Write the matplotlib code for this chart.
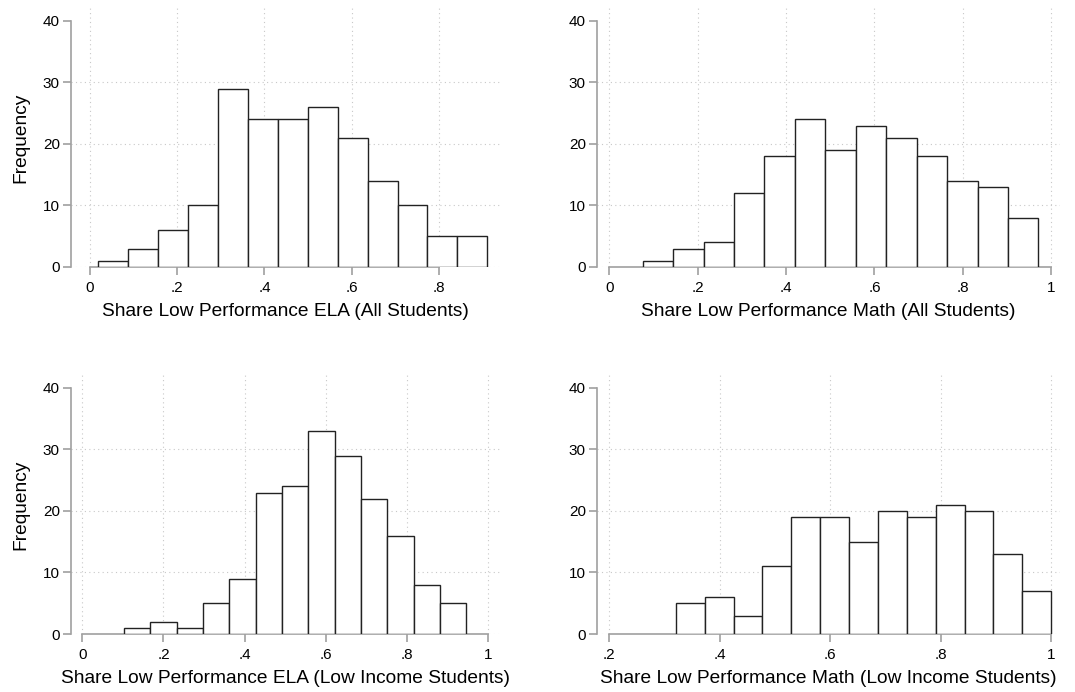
import matplotlib.pyplot as plt
import numpy as np

plt.rcParams['font.family'] = ['Liberation Sans', 'DejaVu Sans']

# bin starts, bin widths and counts
ela_all_start, ela_all_width = 0.019, 0.0686
ela_all_counts = [1, 3, 6, 10, 29, 24, 24, 26, 21, 14, 10, 5, 5]

math_all_start, math_all_width = 0.0754, 0.0689
math_all_counts = [1, 3, 4, 12, 18, 24, 19, 23, 21, 18, 14, 13, 8]

ela_low_start, ela_low_width = 0.1028, 0.0649
ela_low_counts = [1, 2, 1, 5, 9, 23, 24, 33, 29, 22, 16, 8, 5]

math_low_start, math_low_width = 0.3207, 0.05225
math_low_counts = [5, 6, 3, 11, 19, 19, 15, 20, 19, 21, 20, 13, 7]

ticks_a = [0, 0.2, 0.4, 0.6, 0.8]
ticks_b = [0, 0.2, 0.4, 0.6, 0.8, 1.0]
ticks_c = [0.2, 0.4, 0.6, 0.8, 1.0]
yticks = [0, 10, 20, 30, 40]

panels = [
    # start, width, counts, xticks, xlim, xlabel, ylabel, rect(px: left, right, top, bottom)
    (ela_all_start, ela_all_width, ela_all_counts, ticks_a, (-0.0436, 0.940),
     "Share Low Performance ELA (All Students)", True, (71, 500, 8, 267)),
    (math_all_start, math_all_width, math_all_counts, ticks_b, (-0.028, 1.020),
     "Share Low Performance Math (All Students)", False, (597, 1060, 8, 267)),
    (ela_low_start, ela_low_width, ela_low_counts, ticks_b, (-0.028, 1.030),
     "Share Low Performance ELA (Low Income Students)", True, (71, 500, 375, 634)),
    (math_low_start, math_low_width, math_low_counts, ticks_c, (0.178, 1.016),
     "Share Low Performance Math (Low Income Students)", False, (597, 1060, 375, 634)),
]

W, H = 1075, 692
fig = plt.figure(figsize=(W / 100, H / 100), dpi=100)

axis_grey = "#a0a0a0"
for start, width, counts, xt, xlim, xlab, show_ylab, (l, r, t, b) in panels:
    ax = fig.add_axes([l / W, 1 - b / H, (r - l) / W, (b - t) / H])
    edges = start + width * np.arange(len(counts))
    ax.bar(edges, counts, width=width, align="edge", color="white",
           edgecolor="#222222", linewidth=1.0, zorder=3)
    ax.set_xlim(*xlim)
    ax.set_ylim(0, 42.1)
    ax.set_xticks(xt)
    ax.set_xticklabels(["0" if v == 0 else ("1" if v == 1 else f"{v:.1f}".lstrip("0"))
                        for v in xt])
    ax.set_yticks(yticks)
    for v in xt:
        ax.axvline(v, color="#c8c8c8", linestyle=(0, (1, 3)), linewidth=0.8, zorder=1)
    for v in yticks[:-1]:
        ax.axhline(v, color="#c8c8c8", linestyle=(0, (1, 3)), linewidth=0.8, zorder=1)
    for s in ["top", "right"]:
        ax.spines[s].set_visible(False)
    ax.spines["left"].set_bounds(0, 40)
    ax.spines["bottom"].set_bounds(xt[0], xt[-1])
    for s in ["left", "bottom"]:
        ax.spines[s].set_color(axis_grey)
        ax.spines[s].set_linewidth(1.2)
        ax.spines[s].set_zorder(2)
    ax.tick_params(axis="both", colors=axis_grey, labelcolor="black",
                   length=6, width=1.2, labelsize=11)
    ax.tick_params(axis="x", pad=4)
    ax.tick_params(axis="y", pad=2)
    ax.set_xlabel(xlab, fontsize=13.8, labelpad=6)
    if show_ylab:
        ax.set_ylabel("Frequency", fontsize=13.8, labelpad=10)

fig.savefig("out.png", dpi=100)
